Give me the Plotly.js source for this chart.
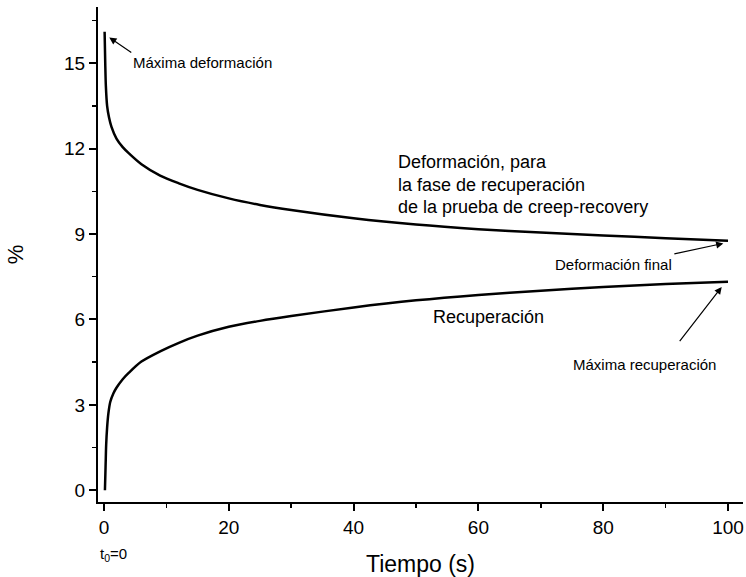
<!DOCTYPE html>
<html>
<head>
<meta charset="utf-8">
<script src="https://cdn.plot.ly/plotly-3.0.1.min.js"></script>
<style>html,body{margin:0;padding:0;background:#fff;}#chart{width:746px;height:577px;}</style>
</head>
<body>
<div id="chart"></div>
<script>
// Deformación (fase de recuperación)
const timeDeformacion = [0.1, 0.2, 0.3, 0.5, 0.8, 1.2, 2, 3, 4, 6, 9, 12, 15, 20, 25, 30, 40, 50, 60, 70, 80, 90, 100];
const deformacion     = [16.1, 15.0, 14.2, 13.5, 13.1, 12.76, 12.35, 12.05, 11.83, 11.45, 11.05, 10.78, 10.55, 10.25, 10.02, 9.84, 9.55, 9.33, 9.17, 9.05, 8.95, 8.85, 8.76];
// Recuperación
const timeRecuperacion = [0.15, 0.25, 0.35, 0.5, 0.7, 1, 1.5, 2, 3, 4, 6, 9, 12, 15, 20, 25, 30, 40, 50, 60, 70, 80, 90, 100];
const recuperacion     = [0, 0.8, 1.6, 2.2, 2.69, 3.1, 3.4, 3.6, 3.9, 4.13, 4.52, 4.88, 5.18, 5.43, 5.74, 5.95, 6.12, 6.42, 6.67, 6.86, 7.01, 7.14, 7.24, 7.32];

const xTicks = [0, 20, 40, 60, 80, 100];
const yTicks = [0, 3, 6, 9, 12, 15];

const FONT = 'Liberation Sans, Arial, sans-serif';

const traces = [
  {x: timeDeformacion, y: deformacion, mode: 'lines', line: {color: '#000', width: 2.5, shape: 'spline', smoothing: 0.8}, hoverinfo: 'skip'},
  {x: timeRecuperacion, y: recuperacion, mode: 'lines', line: {color: '#000', width: 2.5, shape: 'spline', smoothing: 0.8}, hoverinfo: 'skip'}
];

const axCommon = {
  showgrid: false, zeroline: false, showline: true, linecolor: '#000', linewidth: 2,
  ticks: 'outside', ticklen: 7, tickwidth: 2, tickcolor: '#000',
  tickfont: {family: FONT, size: 19, color: '#000'},
  minor: {ticks: 'outside', ticklen: 4, tickwidth: 1.5, tickcolor: '#000'}
};

const layout = {
  width: 746, height: 577,
  margin: {l: 98, r: 3, t: 7, b: 75},
  paper_bgcolor: '#fff', plot_bgcolor: '#fff',
  showlegend: false,
  font: {family: FONT, color: '#000'},
  xaxis: Object.assign({}, axCommon, {
    range: [-0.96, 102.4], tickvals: xTicks, ticktext: xTicks.map(String),
    minor: Object.assign({}, axCommon.minor, {tickvals: [10, 30, 50, 70, 90]}),
    title: {text: 'Tiempo (s)', font: {family: FONT, size: 23, color: '#000'}, standoff: 22}
  }),
  yaxis: Object.assign({}, axCommon, {
    range: [-0.41, 16.97], tickvals: yTicks, ticktext: yTicks.map(String),
    minor: Object.assign({}, axCommon.minor, {tickvals: [1.5, 4.5, 7.5, 10.5, 13.5, 16.5]}),
    title: {text: '%', font: {family: FONT, size: 22, color: '#000'}, standoff: 34}
  }),
  annotations: [
    {x: 0.85, y: 15.9, xref: 'x', yref: 'y', text: 'Máxima deformación', showarrow: true, ax: 22, ay: 15,
     xanchor: 'left', yanchor: 'top',
     arrowhead: 2, arrowsize: 1.2, arrowwidth: 1.2, arrowcolor: '#000',
     font: {family: FONT, size: 15, color: '#000'}},
    {x: 46.8, y: 11.53, xref: 'x', yref: 'y', text: 'Deformación, para', showarrow: false,
     xanchor: 'left', yanchor: 'middle', font: {family: FONT, size: 18, color: '#000'}},
    {x: 46.8, y: 10.71, xref: 'x', yref: 'y', text: 'la fase de recuperación', showarrow: false,
     xanchor: 'left', yanchor: 'middle', font: {family: FONT, size: 18, color: '#000'}},
    {x: 46.8, y: 9.95, xref: 'x', yref: 'y', text: 'de la prueba de creep-recovery', showarrow: false,
     xanchor: 'left', yanchor: 'middle', font: {family: FONT, size: 18, color: '#000'}},
    {x: 52.36, y: 6.09, xref: 'x', yref: 'y', text: 'Recuperación', showarrow: false,
     xanchor: 'left', yanchor: 'middle', font: {family: FONT, size: 18, color: '#000'}},
    {x: 99.25, y: 8.67, xref: 'x', yref: 'y', text: 'Deformación final', showarrow: true, ax: -49, ay: 10.5,
     xanchor: 'right', yanchor: 'top',
     arrowhead: 2, arrowsize: 1.2, arrowwidth: 1.2, arrowcolor: '#000',
     font: {family: FONT, size: 15, color: '#000'}},
    {x: 98.99, y: 7.14, xref: 'x', yref: 'y', text: ' ', showarrow: true, ax: -45, ay: 58,
     arrowhead: 2, arrowsize: 1.2, arrowwidth: 1.2, arrowcolor: '#000'},
    {x: 74.8, y: 4.43, xref: 'x', yref: 'y', text: 'Máxima recuperación', showarrow: false,
     xanchor: 'left', yanchor: 'middle', font: {family: FONT, size: 15, color: '#000'}},
    {x: -0.96, y: -0.107, xref: 'x', yref: 'paper', text: 't<sub>0</sub>=0', showarrow: false,
     xanchor: 'left', yanchor: 'middle', font: {family: FONT, size: 15, color: '#000'}}
  ]
};

Plotly.newPlot('chart', traces, layout, {staticPlot: true, displayModeBar: false});
</script>
</body>
</html>
